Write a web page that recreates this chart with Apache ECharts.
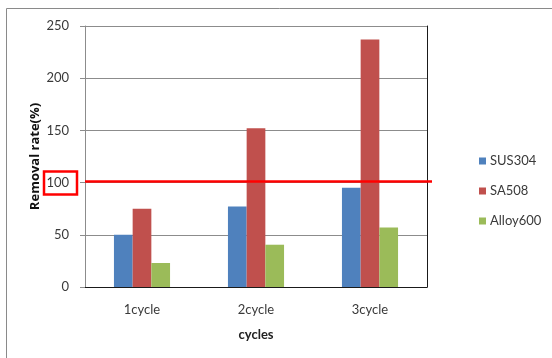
<!DOCTYPE html>
<html>
<head>
<meta charset="utf-8">
<script src="https://cdn.jsdelivr.net/npm/echarts@6/dist/echarts.min.js"></script>
<style>
  html, body { margin: 0; padding: 0; background: #fff; }
  #chart { width: 552px; height: 358px; }
</style>
</head>
<body>
<div id="chart"></div>
<script>
// Removal rate per cleaning cycle for three alloys
const categories = ['1cycle', '2cycle', '3cycle'];
const sus304 = [50, 77, 95];
const sa508 = [75, 152, 237];
const alloy600 = [23, 40.5, 57];
const yTicks = { min: 0, max: 250, interval: 50 };
const referenceLevel = 101;

const FONT = 'Lato, "Liberation Sans", sans-serif';
const TEXT = '#3a3a3a';
const GRID_GRAY = '#8c8c8c';

const chart = echarts.init(document.getElementById('chart'), null, { renderer: 'canvas' });

function bar(name, data, color) {
  return {
    name: name,
    type: 'bar',
    data: data,
    barWidth: 18.7,
    barGap: '0%',
    itemStyle: { color: color },
    animation: false
  };
}

const option = {
  animation: false,
  textStyle: { fontFamily: FONT },
  grid: { left: 85, right: 125, top: 26, bottom: 71 },
  legend: {
    orient: 'vertical',
    left: 474,
    top: 149,
    itemWidth: 7,
    itemHeight: 7,
    itemGap: 16,
    icon: 'rect',
    textStyle: { fontFamily: FONT, fontSize: 13, color: TEXT, lineHeight: 14, padding: [0, 0, 0, -1] },
    data: ['SUS304', 'SA508', 'Alloy600']
  },
  xAxis: [
    {
      type: 'category',
      data: categories,
      name: 'cycles',
      nameLocation: 'middle',
      nameGap: 41,
      nameTextStyle: { fontFamily: FONT, fontSize: 13, fontWeight: 'bold', color: '#222' },
      axisLine: { lineStyle: { color: GRID_GRAY, width: 1 } },
      axisTick: { show: false },
      axisLabel: { fontFamily: FONT, fontSize: 13, color: TEXT, margin: 16 }
    },
    {
      type: 'category',
      data: categories,
      position: 'top',
      axisLine: { lineStyle: { color: '#1a1a1a', width: 1 } },
      axisTick: { show: false },
      axisLabel: { show: false }
    }
  ],
  yAxis: [
    {
      type: 'value',
      min: yTicks.min,
      max: yTicks.max,
      interval: yTicks.interval,
      name: 'Removal rate(%)',
      nameLocation: 'middle',
      nameGap: 43,
      nameMoveOverlap: false,
      nameTextStyle: { fontFamily: '"Open Sans", sans-serif', fontSize: 13, fontWeight: 'bold', color: '#111' },
      axisLine: { show: true, lineStyle: { color: GRID_GRAY, width: 1 } },
      axisTick: { show: true, length: 5, inside: false, lineStyle: { color: GRID_GRAY } },
      axisLabel: { fontFamily: FONT, fontSize: 13, color: TEXT, margin: 16 },
      splitLine: { show: true, lineStyle: { color: GRID_GRAY, width: 1 } }
    },
    {
      type: 'value',
      min: yTicks.min,
      max: yTicks.max,
      interval: yTicks.interval,
      position: 'right',
      axisLine: { show: true, lineStyle: { color: '#1a1a1a', width: 1 } },
      axisTick: { show: false },
      axisLabel: { show: false },
      splitLine: { show: false }
    }
  ],
  series: [
    bar('SUS304', sus304, '#4F81BD'),
    bar('SA508', sa508, '#C0504D'),
    bar('Alloy600', alloy600, '#9BBB59')
  ]
};

chart.setOption(option);

// Outer chart frame, reference line at the threshold, and box around its tick label
const yRef = chart.convertToPixel({ yAxisIndex: 0 }, referenceLevel);
const yHundred = chart.convertToPixel({ yAxisIndex: 0 }, 100);
const plotLeft = 85;
const plotRight = 552 - 125;

chart.setOption({
  graphic: [
    {
      type: 'rect',
      shape: { x: 6.5, y: 8.5, width: 600, height: 400 },
      style: { fill: null, stroke: '#8a8a8a', lineWidth: 1 },
      silent: true,
      z: 0
    },
    {
      type: 'line',
      shape: { x1: plotLeft, y1: yRef, x2: plotRight + 5, y2: yRef },
      style: { stroke: '#ff0000', lineWidth: 2.5 },
      silent: true,
      z: 100
    },
    {
      type: 'rect',
      shape: { x: 44, y: yHundred - 11, width: 33, height: 23 },
      style: { fill: null, stroke: '#ff0000', lineWidth: 2.5 },
      silent: true,
      z: 100
    }
  ]
});
</script>
</body>
</html>
